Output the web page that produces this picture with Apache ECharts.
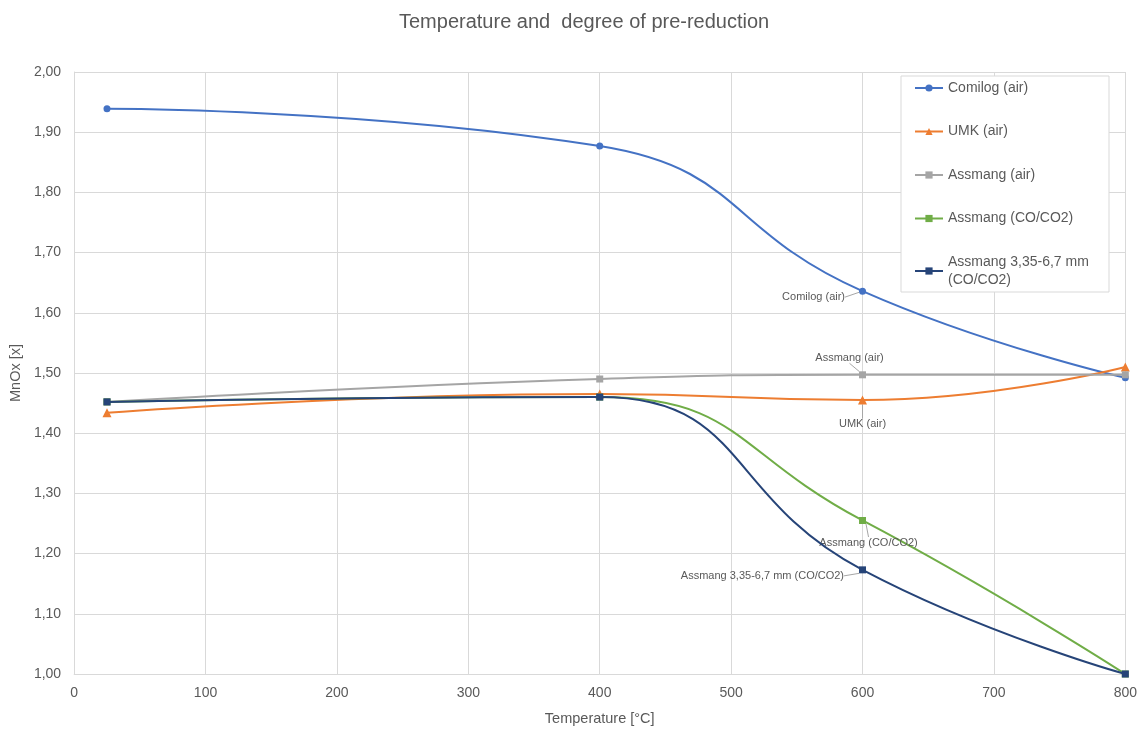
<!DOCTYPE html>
<html>
<head>
<meta charset="utf-8">
<script src="https://cdn.jsdelivr.net/npm/echarts@6/dist/echarts.min.js"></script>
<style>html,body{margin:0;padding:0;background:#fff}#c{width:1140px;height:731px}</style>
</head>
<body>
<div id="c"></div>
<script>
const temperatures = [25, 400, 600, 800];
const seriesNames = ['Comilog (air)', 'UMK (air)', 'Assmang (air)', 'Assmang (CO/CO2)', 'Assmang 3,35-6,7 mm (CO/CO2)'];
const comilogAir = [1.939, 1.877, 1.636, 1.492];
const umkAir = [1.434, 1.465, 1.455, 1.510];
const assmangAir = [1.452, 1.490, 1.497, 1.497];
const assmangCO = [1.452, 1.460, 1.255, 1.000];
const assmang335CO = [1.452, 1.460, 1.173, 1.000];
const xTicks = [0, 100, 200, 300, 400, 500, 600, 700, 800];
const yTicks = [1.0, 1.1, 1.2, 1.3, 1.4, 1.5, 1.6, 1.7, 1.8, 1.9, 2.0];

const colors = ['#4472C4', '#ED7D31', '#A5A5A5', '#70AD47', '#264478'];
const symbols = ['circle', 'triangle', 'rect', 'rect', 'rect'];
const allValues = [comilogAir, umkAir, assmangAir, assmangCO, assmang335CO];
// label placement for the data point at 600 °C
const labelCfg = [
  {position: 'left', dx: -8, dy: 6},
  {position: 'bottom', dx: 0, dy: 8},
  {position: 'top', dx: -13, dy: -2},
  {position: 'bottom', dx: 6, dy: 7},
  {position: 'left', dx: -9, dy: 6}
];
const font = '"Liberation Sans", Arial, sans-serif';

const series = allValues.map((vals, si) => ({
  name: seriesNames[si],
  type: 'line',
  smooth: 0.5,
  symbol: symbols[si],
  symbolSize: si === 1 ? 9 : 7,
  lineStyle: {color: colors[si], width: 2},
  itemStyle: {color: colors[si]},
  z: 2 + si,
  data: vals.map((v, i) => {
    const d = {value: [temperatures[i], v]};
    if (temperatures[i] === 600) {
      d.label = {show: true, position: labelCfg[si].position, distance: 6,
        formatter: seriesNames[si], color: '#595959', fontSize: 11, fontFamily: font};
    }
    return d;
  }),
  label: {show: false},
  labelLine: {show: true, lineStyle: {color: '#A6A6A6', width: 1}},
  labelLayout: function (p) {
    return {dx: labelCfg[si].dx, dy: labelCfg[si].dy};
  }
}));

const chart = echarts.init(document.getElementById('c'), null, {renderer: 'canvas'});
chart.setOption({
  animation: false,
  backgroundColor: '#fff',
  title: {
    text: 'Temperature and  degree of pre-reduction',
    left: 394, top: 7,
    textStyle: {color: '#595959', fontSize: 20, fontWeight: 'normal', fontFamily: font}
  },
  grid: {left: 73, right: 14, top: 72, bottom: 55},
  legend: {
    orient: 'vertical',
    left: 901, top: 76,
    padding: [3, 11, 3, 13],
    itemGap: 25.5,
    itemWidth: 28, itemHeight: 9,
    borderColor: '#D9D9D9', borderWidth: 1,
    backgroundColor: '#fff',
    textStyle: {color: '#595959', fontSize: 14, fontFamily: font, width: 150, overflow: 'break', lineHeight: 18},
    data: seriesNames
  },
  xAxis: {
    type: 'value', min: xTicks[0], max: xTicks[xTicks.length - 1], interval: 100,
    name: 'Temperature [°C]', nameLocation: 'middle', nameGap: 37,
    nameTextStyle: {color: '#595959', fontSize: 14.5, fontFamily: font},
    axisLine: {show: true, lineStyle: {color: '#D9D9D9'}},
    axisTick: {show: false},
    axisLabel: {color: '#595959', fontSize: 14, fontFamily: font, margin: 12},
    splitLine: {show: true, lineStyle: {color: '#D9D9D9'}}
  },
  yAxis: {
    type: 'value', min: yTicks[0], max: yTicks[yTicks.length - 1], interval: 0.1,
    name: 'MnOx [x]', nameLocation: 'middle', nameGap: 45, nameRotate: 90,
    nameTextStyle: {color: '#595959', fontSize: 14.5, fontFamily: font},
    axisLine: {show: true, lineStyle: {color: '#D9D9D9'}},
    axisTick: {show: false},
    axisLabel: {color: '#595959', fontSize: 14, fontFamily: font, margin: 13,
      formatter: v => v.toFixed(2).replace('.', ',')},
    splitLine: {show: true, lineStyle: {color: '#D9D9D9'}}
  },
  series: series
});
</script>
</body>
</html>
